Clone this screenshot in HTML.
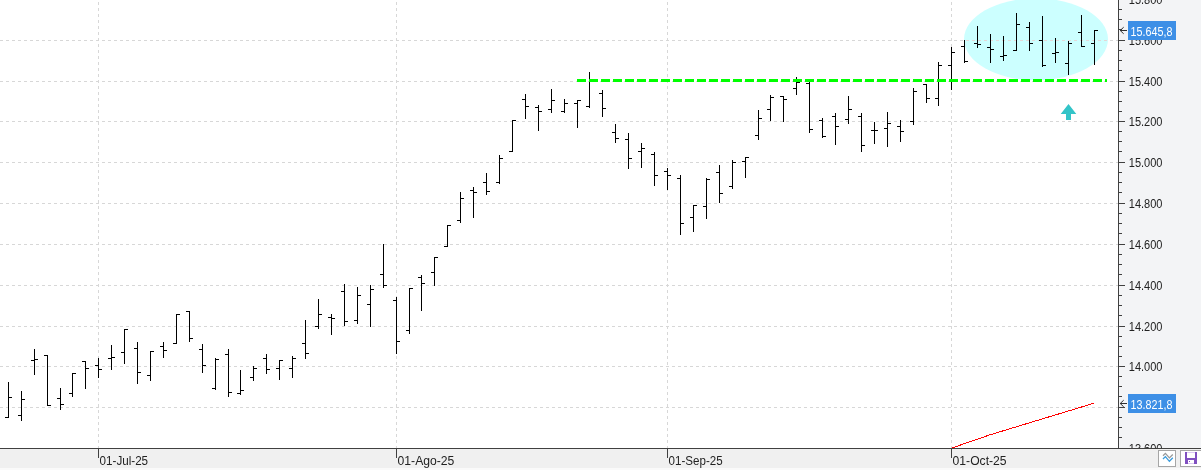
<!DOCTYPE html>
<html><head><meta charset="utf-8"><title>Chart</title>
<style>html,body{margin:0;padding:0;background:#fff;overflow:hidden}svg{display:block}text{font-family:"Liberation Sans",sans-serif}</style>
</head><body>
<svg width="1201" height="470" viewBox="0 0 1201 470">
<rect x="0" y="0" width="1201" height="470" fill="#ffffff"/>
<clipPath id="plot"><rect x="0" y="0" width="1118" height="448"/></clipPath>
<g clip-path="url(#plot)">
<ellipse cx="1036" cy="39.3" rx="72" ry="41" fill="#ccffff"/>
<clipPath id="ell"><ellipse cx="1036" cy="39.3" rx="72" ry="41"/></clipPath>
<g shape-rendering="crispEdges" fill="#d7d7d7">
<path d="M0 40.5H1118" stroke="#d7d7d7" stroke-width="1" stroke-dasharray="3 3" fill="none"/>
<path d="M0 81.5H1118" stroke="#d7d7d7" stroke-width="1" stroke-dasharray="3 3" fill="none"/>
<path d="M0 121.5H1118" stroke="#d7d7d7" stroke-width="1" stroke-dasharray="3 3" fill="none"/>
<path d="M0 162.5H1118" stroke="#d7d7d7" stroke-width="1" stroke-dasharray="3 3" fill="none"/>
<path d="M0 203.5H1118" stroke="#d7d7d7" stroke-width="1" stroke-dasharray="3 3" fill="none"/>
<path d="M0 244.5H1118" stroke="#d7d7d7" stroke-width="1" stroke-dasharray="3 3" fill="none"/>
<path d="M0 285.5H1118" stroke="#d7d7d7" stroke-width="1" stroke-dasharray="3 3" fill="none"/>
<path d="M0 326.5H1118" stroke="#d7d7d7" stroke-width="1" stroke-dasharray="3 3" fill="none"/>
<path d="M0 366.5H1118" stroke="#d7d7d7" stroke-width="1" stroke-dasharray="3 3" fill="none"/>
<path d="M0 407.5H1118" stroke="#d7d7d7" stroke-width="1" stroke-dasharray="3 3" fill="none"/>
<path d="M98.5 2V448" stroke="#d7d7d7" stroke-width="1" stroke-dasharray="3 3" fill="none"/>
<path d="M396.5 2V448" stroke="#d7d7d7" stroke-width="1" stroke-dasharray="3 3" fill="none"/>
<path d="M667.5 2V448" stroke="#d7d7d7" stroke-width="1" stroke-dasharray="3 3" fill="none"/>
<path d="M951.5 2V448" stroke="#d7d7d7" stroke-width="1" stroke-dasharray="3 3" fill="none"/>
</g>
<path d="M0 40.5H1118" stroke="#e4d7d7" stroke-width="1" stroke-dasharray="3 3" fill="none" shape-rendering="crispEdges" clip-path="url(#ell)"/>
<path d="M951 448.3L990 434.8L1094 403.2" stroke="#ff0000" stroke-width="1" fill="none" shape-rendering="crispEdges"/>
<path d="M1068.5 104L1076.3 114H1071V120H1066V114H1060.7Z" fill="#33c4c8"/>
<path shape-rendering="crispEdges" fill="#000" d="M8 382h1V418h-1zM5 417h3v1h-3zM9 397h3v1h-3zM21 391h1V421h-1zM18 415h3v1h-3zM22 399h3v1h-3zM34 349h1V375h-1zM31 360h3v1h-3zM35 359h3v1h-3zM47 355h1V406h-1zM44 355h3v1h-3zM48 405h3v1h-3zM60 388h1V410h-1zM57 398h3v1h-3zM61 404h3v1h-3zM72 373h1V397h-1zM69 393h3v1h-3zM73 373h3v1h-3zM85 361h1V389h-1zM82 361h3v1h-3zM86 368h3v1h-3zM98 358h1V378h-1zM95 365h3v1h-3zM99 369h3v1h-3zM111 345h1V370h-1zM108 358h3v1h-3zM112 357h3v1h-3zM124 329h1V364h-1zM121 352h3v1h-3zM125 329h3v1h-3zM137 342h1V384h-1zM134 348h3v1h-3zM138 372h3v1h-3zM150 351h1V381h-1zM147 375h3v1h-3zM151 351h3v1h-3zM163 342h1V358h-1zM160 346h3v1h-3zM164 350h3v1h-3zM176 314h1V344h-1zM173 343h3v1h-3zM177 314h3v1h-3zM189 311h1V342h-1zM186 311h3v1h-3zM190 338h3v1h-3zM202 344h1V373h-1zM199 349h3v1h-3zM203 365h3v1h-3zM215 358h1V390h-1zM212 388h3v1h-3zM216 359h3v1h-3zM228 349h1V397h-1zM225 354h3v1h-3zM229 392h3v1h-3zM240 370h1V395h-1zM237 393h3v1h-3zM241 390h3v1h-3zM253 366h1V381h-1zM250 377h3v1h-3zM254 368h3v1h-3zM266 354h1V374h-1zM263 358h3v1h-3zM267 369h3v1h-3zM279 360h1V380h-1zM276 368h3v1h-3zM280 360h3v1h-3zM292 356h1V378h-1zM289 368h3v1h-3zM293 358h3v1h-3zM305 320h1V359h-1zM302 343h3v1h-3zM306 353h3v1h-3zM318 299h1V329h-1zM315 326h3v1h-3zM319 314h3v1h-3zM331 314h1V335h-1zM328 317h3v1h-3zM332 318h3v1h-3zM344 284h1V326h-1zM341 291h3v1h-3zM345 321h3v1h-3zM357 287h1V324h-1zM354 320h3v1h-3zM358 295h3v1h-3zM370 285h1V327h-1zM367 304h3v1h-3zM371 289h3v1h-3zM383 244h1V288h-1zM380 274h3v1h-3zM384 285h3v1h-3zM396 297h1V354h-1zM393 300h3v1h-3zM397 341h3v1h-3zM409 288h1V334h-1zM406 330h3v1h-3zM410 288h3v1h-3zM421 275h1V311h-1zM418 277h3v1h-3zM422 283h3v1h-3zM434 257h1V286h-1zM431 272h3v1h-3zM435 257h3v1h-3zM447 225h1V247h-1zM444 246h3v1h-3zM448 225h3v1h-3zM460 192h1V223h-1zM457 220h3v1h-3zM461 198h3v1h-3zM473 187h1V218h-1zM470 190h3v1h-3zM474 192h3v1h-3zM486 173h1V195h-1zM483 182h3v1h-3zM487 191h3v1h-3zM499 155h1V184h-1zM496 182h3v1h-3zM500 158h3v1h-3zM512 120h1V152h-1zM509 151h3v1h-3zM513 120h3v1h-3zM525 94h1V119h-1zM522 99h3v1h-3zM526 106h3v1h-3zM538 105h1V131h-1zM535 107h3v1h-3zM539 111h3v1h-3zM551 89h1V113h-1zM548 109h3v1h-3zM552 100h3v1h-3zM564 99h1V113h-1zM561 111h3v1h-3zM565 103h3v1h-3zM577 100h1V128h-1zM574 103h3v1h-3zM578 100h3v1h-3zM589 72h1V108h-1zM586 106h3v1h-3zM590 80h3v1h-3zM602 90h1V117h-1zM599 93h3v1h-3zM603 108h3v1h-3zM615 124h1V143h-1zM612 132h3v1h-3zM616 138h3v1h-3zM628 133h1V169h-1zM625 139h3v1h-3zM629 158h3v1h-3zM641 143h1V168h-1zM638 151h3v1h-3zM642 148h3v1h-3zM654 152h1V186h-1zM651 154h3v1h-3zM655 175h3v1h-3zM667 168h1V190h-1zM664 171h3v1h-3zM668 175h3v1h-3zM680 175h1V235h-1zM677 178h3v1h-3zM681 223h3v1h-3zM693 205h1V232h-1zM690 217h3v1h-3zM694 205h3v1h-3zM706 178h1V219h-1zM703 206h3v1h-3zM707 179h3v1h-3zM719 165h1V203h-1zM716 172h3v1h-3zM720 193h3v1h-3zM732 160h1V189h-1zM729 186h3v1h-3zM733 162h3v1h-3zM745 157h1V178h-1zM742 161h3v1h-3zM746 157h3v1h-3zM758 110h1V140h-1zM755 135h3v1h-3zM759 118h3v1h-3zM770 95h1V121h-1zM767 109h3v1h-3zM771 97h3v1h-3zM783 96h1V122h-1zM780 96h3v1h-3zM784 99h3v1h-3zM796 77h1V95h-1zM793 88h3v1h-3zM797 82h3v1h-3zM809 82h1V133h-1zM806 83h3v1h-3zM810 129h3v1h-3zM822 118h1V138h-1zM819 120h3v1h-3zM823 136h3v1h-3zM835 113h1V145h-1zM832 116h3v1h-3zM836 126h3v1h-3zM848 96h1V124h-1zM845 119h3v1h-3zM849 109h3v1h-3zM861 113h1V152h-1zM858 116h3v1h-3zM862 145h3v1h-3zM874 122h1V144h-1zM871 130h3v1h-3zM875 130h3v1h-3zM887 112h1V147h-1zM884 128h3v1h-3zM888 123h3v1h-3zM900 120h1V142h-1zM897 126h3v1h-3zM901 131h3v1h-3zM913 88h1V125h-1zM910 121h3v1h-3zM914 91h3v1h-3zM926 84h1V103h-1zM923 84h3v1h-3zM927 98h3v1h-3zM938 62h1V106h-1zM935 98h3v1h-3zM939 65h3v1h-3zM951 47h1V90h-1zM948 65h3v1h-3zM952 52h3v1h-3zM964 40h1V63h-1zM961 46h3v1h-3zM965 61h3v1h-3zM977 26h1V48h-1zM974 43h3v1h-3zM978 44h3v1h-3zM990 34h1V63h-1zM987 47h3v1h-3zM991 49h3v1h-3zM1003 36h1V61h-1zM1000 56h3v1h-3zM1004 55h3v1h-3zM1016 13h1V51h-1zM1013 50h3v1h-3zM1017 24h3v1h-3zM1029 22h1V51h-1zM1026 27h3v1h-3zM1030 43h3v1h-3zM1042 16h1V67h-1zM1039 40h3v1h-3zM1043 65h3v1h-3zM1055 38h1V63h-1zM1052 53h3v1h-3zM1056 52h3v1h-3zM1068 41h1V75h-1zM1065 63h3v1h-3zM1069 43h3v1h-3zM1081 15h1V47h-1zM1078 32h3v1h-3zM1082 46h3v1h-3zM1094 30h1V65h-1zM1091 43h3v1h-3zM1095 30h3v1h-3z"/>
<path d="M577 80.5H1107" stroke="#00ff00" stroke-width="3" stroke-dasharray="9 3" fill="none" shape-rendering="crispEdges"/>
</g>
<rect x="1119" y="0" width="82" height="448" fill="#f3f4f6"/>
<g shape-rendering="crispEdges" fill="#404040">
<rect x="1118" y="0" width="1" height="448"/>
<rect x="1119" y="9" width="3" height="1"/>
<rect x="1119" y="19" width="3" height="1"/>
<rect x="1119" y="29" width="3" height="1"/>
<rect x="1119" y="40" width="6" height="1"/>
<rect x="1119" y="50" width="3" height="1"/>
<rect x="1119" y="60" width="3" height="1"/>
<rect x="1119" y="70" width="3" height="1"/>
<rect x="1119" y="81" width="6" height="1"/>
<rect x="1119" y="91" width="3" height="1"/>
<rect x="1119" y="101" width="3" height="1"/>
<rect x="1119" y="111" width="3" height="1"/>
<rect x="1119" y="121" width="6" height="1"/>
<rect x="1119" y="131" width="3" height="1"/>
<rect x="1119" y="141" width="3" height="1"/>
<rect x="1119" y="151" width="3" height="1"/>
<rect x="1119" y="162" width="6" height="1"/>
<rect x="1119" y="172" width="3" height="1"/>
<rect x="1119" y="182" width="3" height="1"/>
<rect x="1119" y="192" width="3" height="1"/>
<rect x="1119" y="203" width="6" height="1"/>
<rect x="1119" y="213" width="3" height="1"/>
<rect x="1119" y="223" width="3" height="1"/>
<rect x="1119" y="233" width="3" height="1"/>
<rect x="1119" y="244" width="6" height="1"/>
<rect x="1119" y="254" width="3" height="1"/>
<rect x="1119" y="264" width="3" height="1"/>
<rect x="1119" y="274" width="3" height="1"/>
<rect x="1119" y="285" width="6" height="1"/>
<rect x="1119" y="295" width="3" height="1"/>
<rect x="1119" y="305" width="3" height="1"/>
<rect x="1119" y="315" width="3" height="1"/>
<rect x="1119" y="326" width="6" height="1"/>
<rect x="1119" y="336" width="3" height="1"/>
<rect x="1119" y="346" width="3" height="1"/>
<rect x="1119" y="356" width="3" height="1"/>
<rect x="1119" y="366" width="6" height="1"/>
<rect x="1119" y="376" width="3" height="1"/>
<rect x="1119" y="386" width="3" height="1"/>
<rect x="1119" y="396" width="3" height="1"/>
<rect x="1119" y="407" width="6" height="1"/>
<rect x="1119" y="417" width="3" height="1"/>
<rect x="1119" y="427" width="3" height="1"/>
<rect x="1119" y="437" width="3" height="1"/>
</g>
<g font-size="12" fill="#222">
<text x="1128.8" y="3.9" textLength="33.7" lengthAdjust="spacingAndGlyphs">15.800</text>
<text x="1128.8" y="44.9" textLength="33.7" lengthAdjust="spacingAndGlyphs">15.600</text>
<text x="1128.8" y="85.9" textLength="33.7" lengthAdjust="spacingAndGlyphs">15.400</text>
<text x="1128.8" y="125.9" textLength="33.7" lengthAdjust="spacingAndGlyphs">15.200</text>
<text x="1128.8" y="166.9" textLength="33.7" lengthAdjust="spacingAndGlyphs">15.000</text>
<text x="1128.8" y="207.9" textLength="33.7" lengthAdjust="spacingAndGlyphs">14.800</text>
<text x="1128.8" y="248.9" textLength="33.7" lengthAdjust="spacingAndGlyphs">14.600</text>
<text x="1128.8" y="289.9" textLength="33.7" lengthAdjust="spacingAndGlyphs">14.400</text>
<text x="1128.8" y="330.9" textLength="33.7" lengthAdjust="spacingAndGlyphs">14.200</text>
<text x="1128.8" y="370.9" textLength="33.7" lengthAdjust="spacingAndGlyphs">14.000</text>
<text x="1128.8" y="411.9" textLength="33.7" lengthAdjust="spacingAndGlyphs">13.800</text>
<text x="1128.8" y="452.9" textLength="33.7" lengthAdjust="spacingAndGlyphs">13.600</text>
</g>
<rect x="0" y="449" width="1201" height="19" fill="#f0f0f0"/>
<rect x="0" y="468" width="1201" height="2" fill="#fafafa"/>
<g shape-rendering="crispEdges" fill="#404040">
<rect x="0" y="448" width="1201" height="1"/>
<rect x="98" y="449" width="1" height="9"/>
<rect x="396" y="449" width="1" height="9"/>
<rect x="667" y="449" width="1" height="9"/>
<rect x="951" y="449" width="1" height="9"/>
</g>
<g font-size="12" fill="#222">
<text x="99.6" y="465" textLength="48.5" lengthAdjust="spacingAndGlyphs">01-Jul-25</text>
<text x="397.6" y="465" textLength="56.8" lengthAdjust="spacingAndGlyphs">01-Ago-25</text>
<text x="668.6" y="465" textLength="54" lengthAdjust="spacingAndGlyphs">01-Sep-25</text>
<text x="952.6" y="465" textLength="54" lengthAdjust="spacingAndGlyphs">01-Oct-25</text>
</g>
<rect x="1128" y="21" width="48" height="19" fill="#3d8fe6" shape-rendering="crispEdges"/>
<path d="M1127 30.5H1120M1123.7 27.2L1120.2 30.5L1123.7 33.8" stroke="#303030" stroke-width="1" fill="none"/>
<text x="1130.6" y="35.8" font-size="12" fill="#fff" textLength="41.8" lengthAdjust="spacingAndGlyphs">15.645,8</text>
<rect x="1128" y="394" width="48" height="19" fill="#3d8fe6" shape-rendering="crispEdges"/>
<path d="M1127 403.5H1120M1123.7 400.2L1120.2 403.5L1123.7 406.8" stroke="#303030" stroke-width="1" fill="none"/>
<text x="1130.6" y="408.8" font-size="12" fill="#fff" textLength="41.8" lengthAdjust="spacingAndGlyphs">13.821,8</text>
<g shape-rendering="crispEdges">
<rect x="1158.5" y="450.5" width="17" height="16" fill="#fff" stroke="#a6a6a6" stroke-width="1"/>
<rect x="1180.5" y="450.5" width="24" height="16" fill="#fff" stroke="#a6a6a6" stroke-width="1"/>
</g>
<path d="M1163 455.7L1165.4 453.4L1169.4 457.9L1172.8 454.5" stroke="#999999" stroke-width="1.3" fill="none"/>
<path d="M1163 459L1165.4 456.6L1169.4 461.3L1172.8 457.8" stroke="#3a9bdc" stroke-width="1.3" fill="none"/>
<g shape-rendering="crispEdges">
<rect x="1185" y="452" width="12" height="12" fill="#8050c0"/>
<rect x="1187" y="452" width="8" height="6" fill="#ffffff"/>
<rect x="1187" y="452" width="8" height="1" fill="#dccbf2"/>
<rect x="1188" y="460" width="6" height="4" fill="#ffffff"/>
<rect x="1188" y="463" width="6" height="1" fill="#dccbf2"/>
<rect x="1189" y="461" width="1" height="1" fill="#8050c0"/>
</g>
</svg>
</body></html>
